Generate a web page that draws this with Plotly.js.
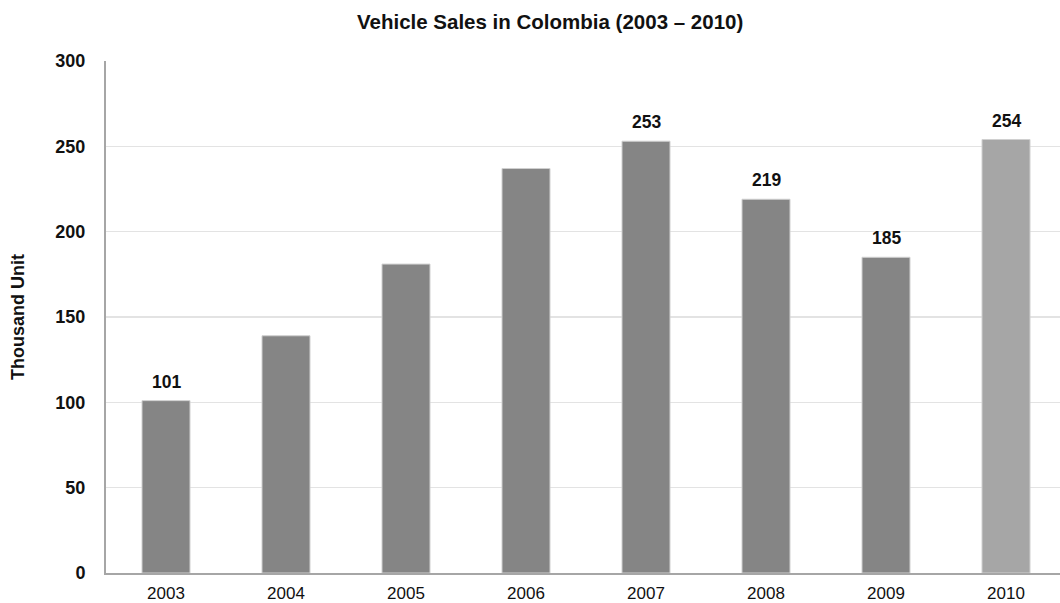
<!DOCTYPE html>
<html><head><meta charset="utf-8">
<script src="https://cdn.plot.ly/plotly-3.0.1.min.js"></script>
<style>html,body{margin:0;padding:0;background:#fff}#chart{width:1060px;height:603px}</style>
</head><body><div id="chart"></div>
<script>
const years = ["2003","2004","2005","2006","2007","2008","2009","2010"];
const sales = [101, 139, 181, 237, 253, 219, 185, 254];
const labels = ["101", "", "", "", "253", "219", "185", "254"];
const barColors = ["#858585","#858585","#858585","#858585","#858585","#858585","#858585","#a6a6a6"];

const FONT = "Liberation Sans, Arial, sans-serif";

const trace = {
  type: "bar",
  x: years,
  y: sales,
  marker: {color: barColors, line: {color: "#d0d0d0", width: 1}},
  hoverinfo: "x+y"
};

const annotations = [];
years.forEach((yr, i) => {
  if (labels[i]) annotations.push({
    x: i, y: sales[i], xref: "x", yref: "y",
    text: "<b>" + labels[i] + "</b>",
    showarrow: false, yanchor: "bottom", yshift: 7,
    font: {family: FONT, size: 17.5, color: "#111"}
  });
});

const layout = {
  width: 1060, height: 603,
  margin: {l: 106, r: 0, t: 61, b: 30},
  paper_bgcolor: "#fff", plot_bgcolor: "#fff",
  bargap: 0.6,
  showlegend: false,
  annotations: annotations,
  title: {text: "<b>Vehicle Sales in Colombia (2003 – 2010)</b>", x: 0.519, xref: "container", xanchor: "center",
    y: 0.9635, yref: "container", yanchor: "middle",
    font: {family: FONT, size: 20.5, color: "#111"}},
  xaxis: {type: "category", range: [-0.5, 7.45], showgrid: false, zeroline: false,
    showline: true, linecolor: "#a6a6a6", linewidth: 2, ticks: "",
    tickfont: {family: FONT, size: 17, color: "#111"}, ticklabelstandoff: 4},
  yaxis: {range: [0, 300], dtick: 50, showgrid: true, gridcolor: "#e3e3e3", gridwidth: 1.5, zeroline: false,
    showline: true, linecolor: "#a6a6a6", linewidth: 2, ticks: "",
    ticklabelstandoff: 15,
    tickfont: {family: FONT, size: 18, color: "#111", weight: "bold"},
    title: {text: "<b>Thousand Unit</b>", standoff: 26, font: {family: FONT, size: 18, color: "#111"}}}
};

Plotly.newPlot("chart", [trace], layout, {displayModeBar: false, staticPlot: true});
</script></body></html>
